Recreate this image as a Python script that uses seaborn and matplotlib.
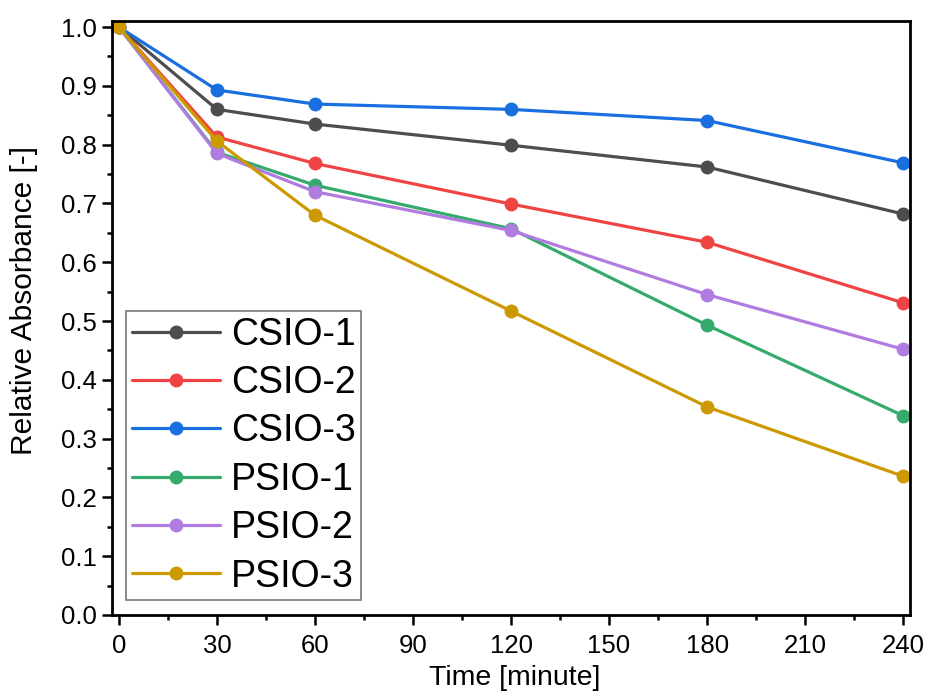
import matplotlib
matplotlib.use("Agg")
import matplotlib.pyplot as plt
import seaborn as sns
import pandas as pd
from matplotlib.ticker import MultipleLocator

time = [0, 30, 60, 120, 180, 240]
series_names = ["CSIO-1", "CSIO-2", "CSIO-3", "PSIO-1", "PSIO-2", "PSIO-3"]
csio1 = [1.0, 0.860, 0.835, 0.799, 0.762, 0.682]
csio2 = [1.0, 0.813, 0.768, 0.699, 0.634, 0.531]
csio3 = [1.0, 0.893, 0.869, 0.860, 0.841, 0.769]
psio1 = [1.0, 0.787, 0.731, 0.657, 0.493, 0.339]
psio2 = [1.0, 0.785, 0.720, 0.654, 0.545, 0.452]
psio3 = [1.0, 0.806, 0.680, 0.517, 0.354, 0.236]
colors = ["#4d4d4d", "#f04444", "#1a6fe0", "#35aa6c", "#b07ce0", "#cc9900"]

values = [csio1, csio2, csio3, psio1, psio2, psio3]
rows = []
for name, vals in zip(series_names, values):
    for t, v in zip(time, vals):
        rows.append({"Time": t, "Value": v, "Sample": name})
df = pd.DataFrame(rows)

sns.set_theme(style="ticks")
plt.rcParams["font.family"] = ["Liberation Sans", "DejaVu Sans"]
plt.rcParams["text.color"] = "black"
plt.rcParams["axes.labelcolor"] = "black"

fig = plt.figure(figsize=(9.25, 6.93), dpi=100)
ax = fig.add_axes([112 / 925, 1 - 615 / 693, (910 - 112) / 925, (615 - 21) / 693])

sns.lineplot(data=df, x="Time", y="Value", hue="Sample", hue_order=series_names,
             palette=colors, marker="o", markersize=10, markeredgewidth=0,
             linewidth=2.3, ax=ax, legend=True)

ax.set_xlim(-2.1, 242.1)
ax.set_ylim(0, 1.0103)
ax.xaxis.set_major_locator(MultipleLocator(30))
ax.xaxis.set_minor_locator(MultipleLocator(15))
ax.set_yticks([i / 10 for i in range(11)])
ax.set_yticklabels([f"{i/10:.1f}" for i in range(11)])
ax.yaxis.set_minor_locator(MultipleLocator(0.05))
ax.tick_params(axis="both", which="major", direction="out", length=7, width=1.8,
               labelsize=18.5, color="black", labelcolor="black")
ax.tick_params(axis="x", which="major", pad=7)
ax.tick_params(axis="y", which="major", pad=4)
ax.tick_params(axis="both", which="minor", direction="out", length=3.5, width=1.8,
               color="black")
for s in ax.spines.values():
    s.set_linewidth(2)
    s.set_color("black")

ax.set_xlabel("Time [minute]", fontsize=20.5)
ax.set_ylabel("Relative Absorbance [-]", fontsize=21.5)
ax.xaxis.set_label_coords(0.504, -0.084)
ax.yaxis.set_label_coords(-0.093, 0.53)

leg = ax.legend(loc="lower left", bbox_to_anchor=(0.0175, 0.025), fontsize=27,
                frameon=True, fancybox=False, edgecolor="#555555",
                handlelength=2.35, handletextpad=0.3, borderpad=0.15,
                labelspacing=0.33, borderaxespad=0)
leg.get_frame().set_linewidth(1.2)

fig.savefig("out.png", dpi=100)
